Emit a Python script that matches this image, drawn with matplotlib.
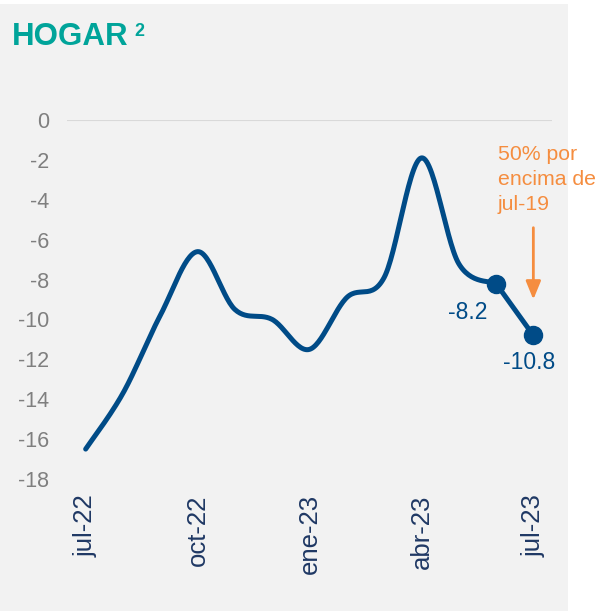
import numpy as np
import matplotlib
matplotlib.use("Agg")
import matplotlib.pyplot as plt
from matplotlib.patches import Rectangle

# Datos (variación %, mensual jul-22 a jul-23)
meses = ["jul-22", "ago-22", "sep-22", "oct-22", "nov-22", "dic-22", "ene-23",
         "feb-23", "mar-23", "abr-23", "may-23", "jun-23", "jul-23"]
valores = [-16.5, -13.7, -9.8, -6.6, -9.5, -10.0, -11.5, -8.9, -7.9, -1.9, -7.2, -8.2, -10.8]
etiquetas_x = ["jul-22", "oct-22", "ene-23", "abr-23", "jul-23"]
ticks_y = [0, -2, -4, -6, -8, -10, -12, -14, -16, -18]

plt.rcParams['font.family'] = ['Liberation Sans', 'DejaVu Sans']

azul = '#004B87'
naranja = '#F58D3F'


def suavizar(x, y, n=30):
    # curva suavizada tipo Excel (Bezier con tangentes de Catmull-Rom)
    x = np.asarray(x, float)
    y = np.asarray(y, float)
    px = np.concatenate([[x[0]], x, [x[-1]]])
    py = np.concatenate([[y[0]], y, [y[-1]]])
    xs, ys = [], []
    t = np.linspace(0, 1, n)
    for i in range(1, len(px) - 2):
        p0 = np.array([px[i], py[i]])
        p3 = np.array([px[i + 1], py[i + 1]])
        p1 = p0 + (p3 - np.array([px[i - 1], py[i - 1]])) / 6
        p2 = p3 - (np.array([px[i + 2], py[i + 2]]) - p0) / 6
        b = ((1 - t) ** 3)[:, None] * p0 + (3 * (1 - t) ** 2 * t)[:, None] * p1 \
            + (3 * (1 - t) * t ** 2)[:, None] * p2 + (t ** 3)[:, None] * p3
        xs.extend(b[:, 0])
        ys.extend(b[:, 1])
    return np.array(xs), np.array(ys)


fig = plt.figure(figsize=(6, 6.11), dpi=100)
fig.patch.set_facecolor('white')
fig.patches.append(Rectangle((0, 0), 568 / 600, 607 / 611, transform=fig.transFigure,
                             facecolor='#F2F2F2', edgecolor='none', zorder=-1))

ax = fig.add_axes([67 / 600, 132 / 611, 485 / 600, 359 / 611])
ax.set_facecolor('none')

x = np.arange(len(meses))
xs, ys = suavizar(x[:-1], valores[:-1])
ax.plot(xs, ys, color=azul, lw=3.6, solid_capstyle='round', zorder=3)
ax.plot(x[-2:], valores[-2:], color=azul, lw=3.6, marker='o', ms=13, zorder=4)

ax.set_xlim(-0.5, 12.5)
ax.set_ylim(-18, 0)
ax.set_yticks(ticks_y)
ax.set_yticklabels([str(v) for v in ticks_y])
ax.set_xticks([meses.index(m) for m in etiquetas_x])
ax.set_xticklabels(etiquetas_x, rotation=90)
ax.tick_params(axis='y', length=0, labelsize=15.5, labelcolor='#7F7F7F', pad=13)
ax.tick_params(axis='x', length=0, labelsize=18.5, labelcolor='#1F3864', pad=11)
for s in ax.spines.values():
    s.set_visible(False)
ax.axhline(0, color='#D9D9D9', lw=1.5, zorder=1)

ax.text(x[-2] - 0.75, valores[-2] - 1.45, "-8.2", color=azul, fontsize=16.5,
        ha='center', va='center')
ax.text(x[-1] - 0.12, valores[-1] - 1.35, "-10.8", color=azul, fontsize=16.5,
        ha='center', va='center')

ax.annotate("", xy=(12, -9.0), xytext=(12, -5.4),
            arrowprops=dict(arrowstyle='-|>,head_width=0.45,head_length=1.1',
                            color=naranja, lw=2, shrinkA=0, shrinkB=0),
            annotation_clip=False)
fig.text(498 / 600, 1 - 145 / 611, "50% por\nencima de\njul-19", color=naranja,
         fontsize=15.3, ha='left', va='top', linespacing=1.4)

fig.text(12 / 600, 1 - 37 / 611, "HOGAR", color='#00A49A', fontsize=22.5,
         fontweight='bold', ha='left', va='center')
fig.text(134 / 600, 1 - 31 / 611, "2", color='#00A49A', fontsize=13,
         fontweight='bold', ha='left', va='center')

fig.savefig("out.png", dpi=100, facecolor=fig.get_facecolor())
